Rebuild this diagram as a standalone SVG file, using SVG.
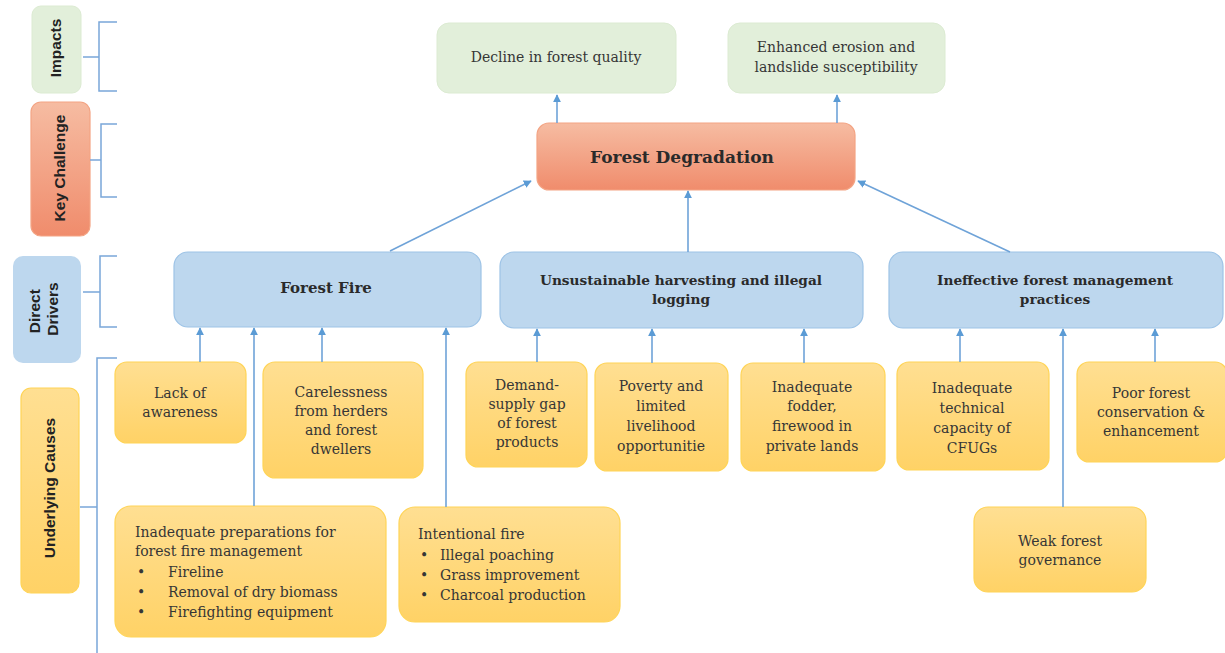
<svg xmlns="http://www.w3.org/2000/svg" width="1225" height="653" viewBox="0 0 1225 653">
  <style>
    .bg { fill: #ffffff; }
    .green { fill: #e2efda; stroke: #dcebd2; stroke-width: 1; }
    .orange { fill: url(#gOrange); stroke: #f3a484; stroke-width: 1.2; }
    .blue { fill: #bdd7ee; stroke: #9dc3e6; stroke-width: 1.2; }
    .yellow { fill: url(#gYellow); stroke: #ffd457; stroke-width: 1.2; }
    .t { font-family: "DejaVu Serif", "Liberation Serif", serif; font-size: 14px; fill: #363636; text-anchor: middle; }
    .tl { font-family: "DejaVu Serif", "Liberation Serif", serif; font-size: 14px; fill: #363636; }
    .b { font-weight: bold; font-size: 13.7px; fill: #2a2a2a; }
    .lab { font-family: "Liberation Sans", "Open Sans", sans-serif; font-size: 15.5px; font-weight: bold; fill: #222222; text-anchor: middle; }
    .brace { fill: none; stroke: #7aa7d9; stroke-width: 1.5; }
    .conn line { stroke: #6fa3d8; stroke-width: 1.6; }
  </style>
  <defs>
    <linearGradient id="gOrange" x1="0" y1="0" x2="0" y2="1">
      <stop offset="0" stop-color="#f6bca2"/>
      <stop offset="1" stop-color="#f08c6c"/>
    </linearGradient>
    <linearGradient id="gYellow" x1="0" y1="0" x2="0" y2="1">
      <stop offset="0" stop-color="#ffdf92"/>
      <stop offset="1" stop-color="#ffd266"/>
    </linearGradient>
    <marker id="arr" viewBox="0 0 10 10" refX="9" refY="5" markerWidth="8" markerHeight="8" markerUnits="userSpaceOnUse" orient="auto">
      <path d="M0,0 L10,5 L0,10 z" fill="#5b9bd5"/>
    </marker>
  </defs>

  <rect class="bg" x="0" y="0" width="1225" height="653"/>

  <!-- Level labels -->
  <g id="label-impacts">
    <rect x="32" y="6" width="49" height="87" rx="9" class="green"/>
    <text class="lab" transform="translate(56,48) rotate(-90)" dy="5">Impacts</text>
  </g>
  <g id="label-key-challenge">
    <rect x="31" y="102" width="59" height="134" rx="10" class="orange"/>
    <text class="lab" transform="translate(60,168) rotate(-90)" dy="5">Key Challenge</text>
  </g>
  <g id="label-direct-drivers">
    <rect x="13" y="256" width="68" height="107" rx="10" fill="#bdd7ee"/>
    <text class="lab" transform="translate(44,309) rotate(-90)">
      <tspan x="0" y="-4">Direct</tspan>
      <tspan x="0" y="14">Drivers</tspan>
    </text>
  </g>
  <g id="label-underlying-causes">
    <rect x="21" y="388" width="58" height="205" rx="10" class="yellow"/>
    <text class="lab" transform="translate(50,488) rotate(-90)" dy="5">Underlying Causes</text>
  </g>

  <!-- Braces -->
  <g id="braces">
    <path class="brace" d="M117,22 H99 V91 H117 M99,57 H83"/>
    <path class="brace" d="M117,124 H101 V197 H117 M101,160 H90"/>
    <path class="brace" d="M117,256 H100 V327 H117 M100,292 H83"/>
    <path class="brace" d="M117,358 H97 V653 M97,507 H80"/>
  </g>

  <!-- Impacts -->
  <g id="impact-quality">
    <rect x="437" y="23" width="239" height="70" rx="12" class="green"/>
    <text class="t" x="556" y="62">Decline in forest quality</text>
  </g>
  <g id="impact-erosion">
    <rect x="728" y="23" width="217" height="70" rx="12" class="green"/>
    <text class="t" x="836" y="52">Enhanced erosion and</text>
    <text class="t" x="836" y="72">landslide susceptibility</text>
  </g>

  <!-- Key challenge -->
  <g id="forest-degradation">
    <rect x="537" y="123" width="318" height="67" rx="12" class="orange"/>
    <text class="t b" x="682" y="163" style="font-size:17px">Forest Degradation</text>
  </g>

  <!-- Direct drivers -->
  <g id="forest-fire">
    <rect x="174" y="252" width="307" height="75" rx="14" class="blue"/>
    <text class="t b" x="326" y="293" style="font-size:15px">Forest Fire</text>
  </g>
  <g id="harvesting">
    <rect x="500" y="252" width="363" height="76" rx="14" class="blue"/>
    <text class="t b" x="681" y="285">Unsustainable harvesting and illegal</text>
    <text class="t b" x="681" y="304">logging</text>
  </g>
  <g id="management">
    <rect x="889" y="252" width="334" height="76" rx="14" class="blue"/>
    <text class="t b" x="1055" y="285">Ineffective forest management</text>
    <text class="t b" x="1055" y="304">practices</text>
  </g>

  <!-- Underlying causes, first row -->
  <g id="lack-awareness">
    <rect x="115" y="362" width="131" height="81" rx="12" class="yellow"/>
    <text class="t" x="180" y="398">Lack of</text>
    <text class="t" x="180" y="417">awareness</text>
  </g>
  <g id="carelessness">
    <rect x="263" y="362" width="160" height="116" rx="12" class="yellow"/>
    <text class="t" x="341" y="397">Carelessness</text>
    <text class="t" x="341" y="416">from herders</text>
    <text class="t" x="341" y="435">and forest</text>
    <text class="t" x="341" y="454">dwellers</text>
  </g>
  <g id="demand-supply">
    <rect x="466" y="362" width="121" height="105" rx="12" class="yellow"/>
    <text class="t" x="527" y="390">Demand-</text>
    <text class="t" x="527" y="409">supply gap</text>
    <text class="t" x="527" y="428">of forest</text>
    <text class="t" x="527" y="447">products</text>
  </g>
  <g id="poverty">
    <rect x="595" y="363" width="133" height="108" rx="12" class="yellow"/>
    <text class="t" x="661" y="391">Poverty and</text>
    <text class="t" x="661" y="411">limited</text>
    <text class="t" x="661" y="431">livelihood</text>
    <text class="t" x="661" y="451">opportunitie</text>
  </g>
  <g id="fodder">
    <rect x="741" y="363" width="144" height="108" rx="12" class="yellow"/>
    <text class="t" x="812" y="392">Inadequate</text>
    <text class="t" x="812" y="411">fodder,</text>
    <text class="t" x="812" y="431">firewood in</text>
    <text class="t" x="812" y="451">private lands</text>
  </g>
  <g id="technical-capacity">
    <rect x="897" y="362" width="152" height="108" rx="12" class="yellow"/>
    <text class="t" x="972" y="393">Inadequate</text>
    <text class="t" x="972" y="413">technical</text>
    <text class="t" x="972" y="433">capacity of</text>
    <text class="t" x="972" y="453">CFUGs</text>
  </g>
  <g id="conservation">
    <rect x="1077" y="362" width="150" height="100" rx="12" class="yellow"/>
    <text class="t" x="1151" y="398">Poor forest</text>
    <text class="t" x="1151" y="417">conservation &amp;</text>
    <text class="t" x="1151" y="436">enhancement</text>
  </g>

  <!-- Underlying causes, second row -->
  <g id="fire-preparations">
    <rect x="115" y="506" width="271" height="131" rx="16" class="yellow"/>
    <text class="tl" x="135" y="537">Inadequate preparations for</text>
    <text class="tl" x="135" y="556">forest fire management</text>
    <text class="tl" x="137" y="577">•</text><text class="tl" x="168" y="577">Fireline</text>
    <text class="tl" x="137" y="597">•</text><text class="tl" x="168" y="597">Removal of dry biomass</text>
    <text class="tl" x="137" y="617">•</text><text class="tl" x="168" y="617">Firefighting equipment</text>
  </g>
  <g id="intentional-fire">
    <rect x="399" y="507" width="221" height="115" rx="16" class="yellow"/>
    <text class="tl" x="418" y="539">Intentional fire</text>
    <text class="tl" x="420" y="560">•</text><text class="tl" x="440" y="560">Illegal poaching</text>
    <text class="tl" x="420" y="580">•</text><text class="tl" x="440" y="580">Grass improvement</text>
    <text class="tl" x="420" y="600">•</text><text class="tl" x="440" y="600">Charcoal production</text>
  </g>
  <g id="weak-governance">
    <rect x="974" y="507" width="172" height="85" rx="14" class="yellow"/>
    <text class="t" x="1060" y="546">Weak forest</text>
    <text class="t" x="1060" y="565">governance</text>
  </g>

  <!-- Connectors -->
  <g id="connectors" class="conn">
    <line x1="557" y1="123" x2="557" y2="95" marker-end="url(#arr)"/>
    <line x1="837" y1="123" x2="837" y2="95" marker-end="url(#arr)"/>

    <line x1="390" y1="251" x2="531" y2="181" marker-end="url(#arr)"/>
    <line x1="688" y1="252" x2="688" y2="191" marker-end="url(#arr)"/>
    <line x1="1010" y1="252" x2="858" y2="181" marker-end="url(#arr)"/>

    <line x1="200" y1="362" x2="200" y2="328" marker-end="url(#arr)"/>
    <line x1="254" y1="506" x2="254" y2="328" marker-end="url(#arr)"/>
    <line x1="322" y1="362" x2="322" y2="328" marker-end="url(#arr)"/>
    <line x1="446" y1="507" x2="446" y2="328" marker-end="url(#arr)"/>

    <line x1="537" y1="362" x2="537" y2="329" marker-end="url(#arr)"/>
    <line x1="652" y1="363" x2="652" y2="329" marker-end="url(#arr)"/>
    <line x1="804" y1="363" x2="804" y2="329" marker-end="url(#arr)"/>

    <line x1="960" y1="362" x2="960" y2="329" marker-end="url(#arr)"/>
    <line x1="1063" y1="507" x2="1063" y2="329" marker-end="url(#arr)"/>
    <line x1="1155" y1="362" x2="1155" y2="329" marker-end="url(#arr)"/>
  </g>
</svg>
